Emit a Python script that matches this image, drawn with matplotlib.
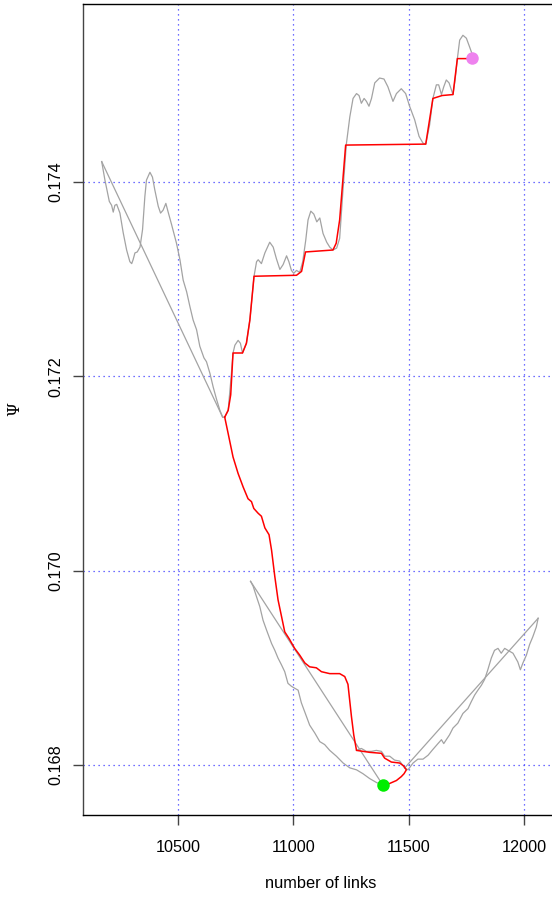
import numpy as np
import matplotlib
matplotlib.use("Agg")
import matplotlib.pyplot as plt

# upper grey trace (number of links, Psi)
up_links = [10170, 10184, 10203, 10213, 10220, 10227, 10235, 10249, 10263, 10278,
            10292, 10300, 10306, 10314, 10324, 10336, 10347, 10357, 10364, 10379,
            10390, 10400, 10415, 10425, 10436, 10448, 10458, 10473, 10494, 10509,
            10523, 10538, 10552, 10566, 10581, 10595, 10613, 10624, 10639, 10653,
            10668, 10682, 10694, 10703, 10718, 10732, 10739, 10747, 10761, 10771,
            10780, 10797, 10812, 10830, 10841, 10848, 10862, 10877, 10898, 10913,
            10927, 10942, 10956, 10971, 10981, 10992, 11002, 11014, 11028, 11041,
            11054, 11064, 11076, 11089, 11102, 11115, 11129, 11145, 11158, 11172,
            11188, 11201, 11214, 11230, 11245, 11259, 11274, 11285, 11295, 11307,
            11317, 11328, 11339, 11353, 11374, 11393, 11410, 11432, 11447, 11468,
            11487, 11504, 11526, 11545, 11562, 11574, 11591, 11605, 11620, 11630,
            11642, 11652, 11663, 11675, 11692, 11701, 11711, 11721, 11735, 11750,
            11764, 11773]
up_psi = [0.17421, 0.17402, 0.17380, 0.17376, 0.17369, 0.17376, 0.17377, 0.17368, 0.17348, 0.17330,
          0.17318, 0.17316, 0.17320, 0.17327, 0.17328, 0.17333, 0.17351, 0.17385, 0.17402, 0.17410,
          0.17405, 0.17392, 0.17375, 0.17368, 0.17371, 0.17378, 0.17369, 0.17356, 0.17337, 0.17320,
          0.17299, 0.17287, 0.17272, 0.17258, 0.17248, 0.17231, 0.17219, 0.17215, 0.17203, 0.17189,
          0.17176, 0.17165, 0.17158, 0.17158, 0.17165, 0.17203, 0.17224, 0.17232, 0.17237, 0.17234,
          0.17224, 0.17234, 0.17258, 0.17303, 0.17318, 0.17320, 0.17316, 0.17327, 0.17338, 0.17333,
          0.17321, 0.17310, 0.17315, 0.17324, 0.17318, 0.17309, 0.17306, 0.17309, 0.17307, 0.17318,
          0.17340, 0.17361, 0.17370, 0.17367, 0.17359, 0.17363, 0.17347, 0.17338, 0.17333, 0.17330,
          0.17332, 0.17342, 0.17387, 0.17439, 0.17467, 0.17486, 0.17491, 0.17489, 0.17481, 0.17486,
          0.17483, 0.17478, 0.17486, 0.17502, 0.17507, 0.17506, 0.17498, 0.17483, 0.17491, 0.17496,
          0.17491, 0.17478, 0.17464, 0.17447, 0.17440, 0.17439, 0.17459, 0.17486, 0.17500, 0.17500,
          0.17490, 0.17498, 0.17505, 0.17502, 0.17490, 0.17505, 0.17527, 0.17546, 0.17551, 0.17548,
          0.17539, 0.17533]

# lower grey trace, descending part
down_links = [10815, 10826, 10841, 10855, 10869, 10884, 10906, 10920, 10934, 10949,
              10963, 10977, 10992, 11006, 11021, 11035, 11057, 11071, 11093, 11115,
              11136, 11158, 11187, 11216, 11245, 11274, 11302, 11331, 11360, 11389]
down_psi = [0.16989, 0.16984, 0.16973, 0.16963, 0.16949, 0.16939, 0.16925, 0.16918, 0.16910, 0.16903,
            0.16896, 0.16884, 0.16881, 0.16879, 0.16877, 0.16864, 0.16850, 0.16841, 0.16833, 0.16824,
            0.16821, 0.16815, 0.16809, 0.16802, 0.16797, 0.16795, 0.16791, 0.16786, 0.16782, 0.16779]

# grey piece along the last small steps
mid_links = [11274, 11295, 11317, 11339, 11360, 11382, 11396, 11418, 11439, 11461, 11483]
mid_psi = [0.16815, 0.16817, 0.16814, 0.16814, 0.16815, 0.16814, 0.16809, 0.16809, 0.16805, 0.16804, 0.16797]

# lower grey trace, rising part
rise_links = [11483, 11497, 11519, 11540, 11562, 11584, 11605, 11627, 11642, 11652,
              11663, 11677, 11692, 11713, 11735, 11757, 11771, 11786, 11800, 11815,
              11829, 11843, 11858, 11872, 11887, 11901, 11916, 11930, 11952, 11973,
              11984, 11995, 12010, 12024, 12038, 12053, 12061]
rise_psi = [0.16797, 0.16795, 0.16802, 0.16806, 0.16806, 0.16810, 0.16816, 0.16822, 0.16826, 0.16822,
            0.16826, 0.16831, 0.16838, 0.16843, 0.16853, 0.16858, 0.16865, 0.16872, 0.16877, 0.16882,
            0.16888, 0.16898, 0.16910, 0.16918, 0.16920, 0.16915, 0.16920, 0.16918, 0.16915, 0.16906,
            0.16898, 0.16905, 0.16913, 0.16924, 0.16932, 0.16942, 0.16951]

# straight chords joining the ends of each grey piece
chord_links = [[10170, 10694], [10815, 11389], [11483, 12061]]
chord_psi = [[0.17421, 0.17158], [0.16989, 0.16779], [0.16797, 0.16951]]

# red path, stepping up
red_up_links = [10703, 10718, 10729, 10739, 10780, 10797, 10812, 10830, 11014, 11036,
                11053, 11172, 11186, 11201, 11227, 11574, 11605, 11645, 11692, 11711,
                11757, 11773]
red_up_psi = [0.17158, 0.17165, 0.17181, 0.17224, 0.17224, 0.17234, 0.17258, 0.17303, 0.17304, 0.17308,
              0.17328, 0.17330, 0.17337, 0.17361, 0.17438, 0.17439, 0.17486, 0.17489, 0.17490, 0.17527,
              0.17527, 0.17528]

# red path, going down
red_down_links = [10703, 10718, 10739, 10761, 10783, 10804, 10819, 10829, 10848, 10862,
                  10877, 10895, 10906, 10920, 10934, 10949, 10963, 10982, 11006, 11028,
                  11050, 11071, 11100, 11122, 11158, 11201, 11223, 11237, 11252, 11262,
                  11274, 11331, 11382, 11396, 11425, 11461, 11478, 11490, 11480, 11468,
                  11447, 11418, 11389]
red_down_psi = [0.17158, 0.17141, 0.17117, 0.17100, 0.17086, 0.17074, 0.17071, 0.17064, 0.17059, 0.17056,
                0.17044, 0.17037, 0.17021, 0.16994, 0.16970, 0.16953, 0.16937, 0.16930, 0.16920, 0.16913,
                0.16905, 0.16901, 0.16900, 0.16896, 0.16894, 0.16894, 0.16891, 0.16883, 0.16850, 0.16831,
                0.16815, 0.16813, 0.16812, 0.16807, 0.16803, 0.16802, 0.16799, 0.16795, 0.16791, 0.16788,
                0.16784, 0.16781, 0.16779]

end_point = (11773, 0.17528)
best_point = (11389, 0.16779)

x_ticks = [10500, 11000, 11500, 12000]
y_ticks = [0.168, 0.170, 0.172, 0.174]

plt.rcParams['font.family'] = ['Liberation Sans', 'DejaVu Sans']

fig = plt.figure(figsize=(5.52, 8.98), dpi=100)
ax = fig.add_axes([83 / 552, 83 / 898, 475 / 552, 811 / 898])

for xv in x_ticks:
    ax.axvline(xv, color='#4040ff', ls=(0, (1, 3)), lw=0.9, zorder=0)
for yv in y_ticks:
    ax.axhline(yv, color='#4040ff', ls=(0, (1, 3)), lw=0.9, zorder=0)

grey = '#a3a3a3'
ax.plot(up_links, up_psi, color=grey, lw=0.9)
ax.plot(down_links, down_psi, color=grey, lw=0.9)
ax.plot(mid_links, mid_psi, color=grey, lw=0.9)
ax.plot(rise_links, rise_psi, color=grey, lw=0.9)
for cx, cy in zip(chord_links, chord_psi):
    ax.plot(cx, cy, color=grey, lw=0.9)

ax.plot(red_up_links, red_up_psi, color='red', lw=1.1)
ax.plot(red_down_links, red_down_psi, color='red', lw=1.1)

ax.plot(*end_point, 'o', color='violet', ms=9, mec='none')
ax.plot(*best_point, 'o', color='#00ee00', ms=9, mec='none')

ax.set_xlim(10089, 12147)
ax.set_ylim(0.167485, 0.175832)
ax.set_xticks(x_ticks)
ax.set_yticks(y_ticks)
ax.set_yticklabels(['%.3f' % v for v in y_ticks], rotation=90, va='center')
ax.tick_params(axis='both', length=7, width=1, color='#444444', labelsize=11.7)
ax.tick_params(axis='x', pad=11)
ax.tick_params(axis='y', pad=7)

for s in ax.spines.values():
    s.set_linewidth(1)
    s.set_color('black')
ax.spines['left'].set_color('#444444')

ax.set_xlabel('number of links', fontsize=11.8, labelpad=15)
fig.text(15 / 552, 1 - 409 / 898, 'Ψ', rotation=90, fontsize=11.5,
         family=['DejaVu Serif'], ha='center', va='center')

fig.savefig('out.png', dpi=100)
